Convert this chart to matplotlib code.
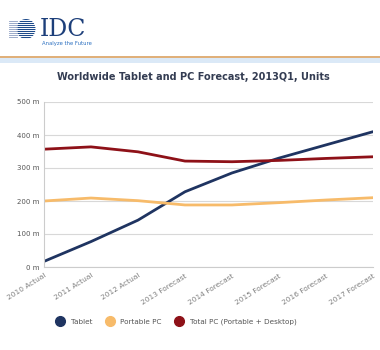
import matplotlib
matplotlib.use('Agg')
from matplotlib import pyplot as plt
from matplotlib.patches import Ellipse, Rectangle
from matplotlib.lines import Line2D

years = ['2010 Actual', '2011 Actual', '2012 Actual', '2013 Forecast',
         '2014 Forecast', '2015 Forecast', '2016 Forecast', '2017 Forecast']
tablet = [17, 77, 142, 228, 285, 330, 370, 410]
portable_pc = [200, 209, 201, 188, 188, 195, 203, 210]
total_pc = [357, 364, 349, 321, 319, 323, 329, 334]

c_tab = '#1f3461'
c_port = '#f7bb6a'
c_tot = '#8e1118'

fig = plt.figure(figsize=(3.8, 3.5), dpi=100)
fig.patch.set_facecolor('white')

# header: logo, orange rule, light blue band
hdr = fig.add_axes([0, 0, 1, 1])
hdr.set_xlim(0, 380)
hdr.set_ylim(350, 0)
hdr.axis('off')
hdr.add_patch(Rectangle((0, 56), 380, 2, color='#e0b07a', lw=0))
hdr.add_patch(Rectangle((0, 58), 380, 5, color='#dbe9f7', lw=0))
# globe
hdr.add_patch(Ellipse((26, 29), 19, 20, color='#1d4a8a', lw=0))
for yy in range(20, 40, 2):
    hdr.plot([9, 37], [yy, yy], color='white', lw=0.7)
for yy in range(21, 39, 2):
    hdr.plot([9, 17], [yy, yy], color='#8a9cc0', lw=0.6)
hdr.text(40, 29, 'IDC', fontsize=17, family='DejaVu Serif', color='#1d3f7a',
         va='center', ha='left')
hdr.text(42, 43, 'Analyze the Future', fontsize=3.8, color='#2a6fc0',
         va='center', ha='left')
hdr.text(193, 77, 'Worldwide Tablet and PC Forecast, 2013Q1, Units',
         fontsize=7, fontweight='bold', color='#333c52', ha='center', va='center')

ax = fig.add_axes([44/380, 1-267/350, (373-44)/380, (267-102)/350])
x = range(len(years))
ax.plot(x, tablet, color=c_tab, lw=2.0, solid_capstyle='round', solid_joinstyle='round')
ax.plot(x, portable_pc, color=c_port, lw=2.0, solid_capstyle='round', solid_joinstyle='round')
ax.plot(x, total_pc, color=c_tot, lw=2.0, solid_capstyle='round', solid_joinstyle='round')

ax.set_xlim(0, 7)
ax.set_ylim(0, 500)
ax.set_yticks([0, 100, 200, 300, 400, 500])
ax.set_yticklabels(['0 m', '100 m', '200 m', '300 m', '400 m', '500 m'])
ax.set_xticks(list(x))
ax.set_xticklabels(years, rotation=32, ha='right', rotation_mode='anchor')
ax.tick_params(axis='y', length=0, labelsize=5, labelcolor='#555555', pad=3)
ax.tick_params(axis='x', length=0, labelsize=5.3, labelcolor='#808080', pad=4)
ax.grid(axis='y', color='#d8d8d8', lw=0.8)
ax.set_axisbelow(True)
for s in ['top', 'right']:
    ax.spines[s].set_visible(False)
ax.spines['left'].set_color('#cccccc')
ax.spines['bottom'].set_color('#cccccc')

handles = [Line2D([], [], marker='o', ls='', ms=7, color=c) for c in (c_tab, c_port, c_tot)]
fig.legend(handles, ['Tablet', 'Portable PC', 'Total PC (Portable + Desktop)'],
           loc='center', bbox_to_anchor=(0.46, 1-322/350), ncol=3, frameon=False,
           fontsize=5.2, handletextpad=0.5, columnspacing=1.4, labelcolor='#555555')

fig.savefig('out.png', dpi=100)
